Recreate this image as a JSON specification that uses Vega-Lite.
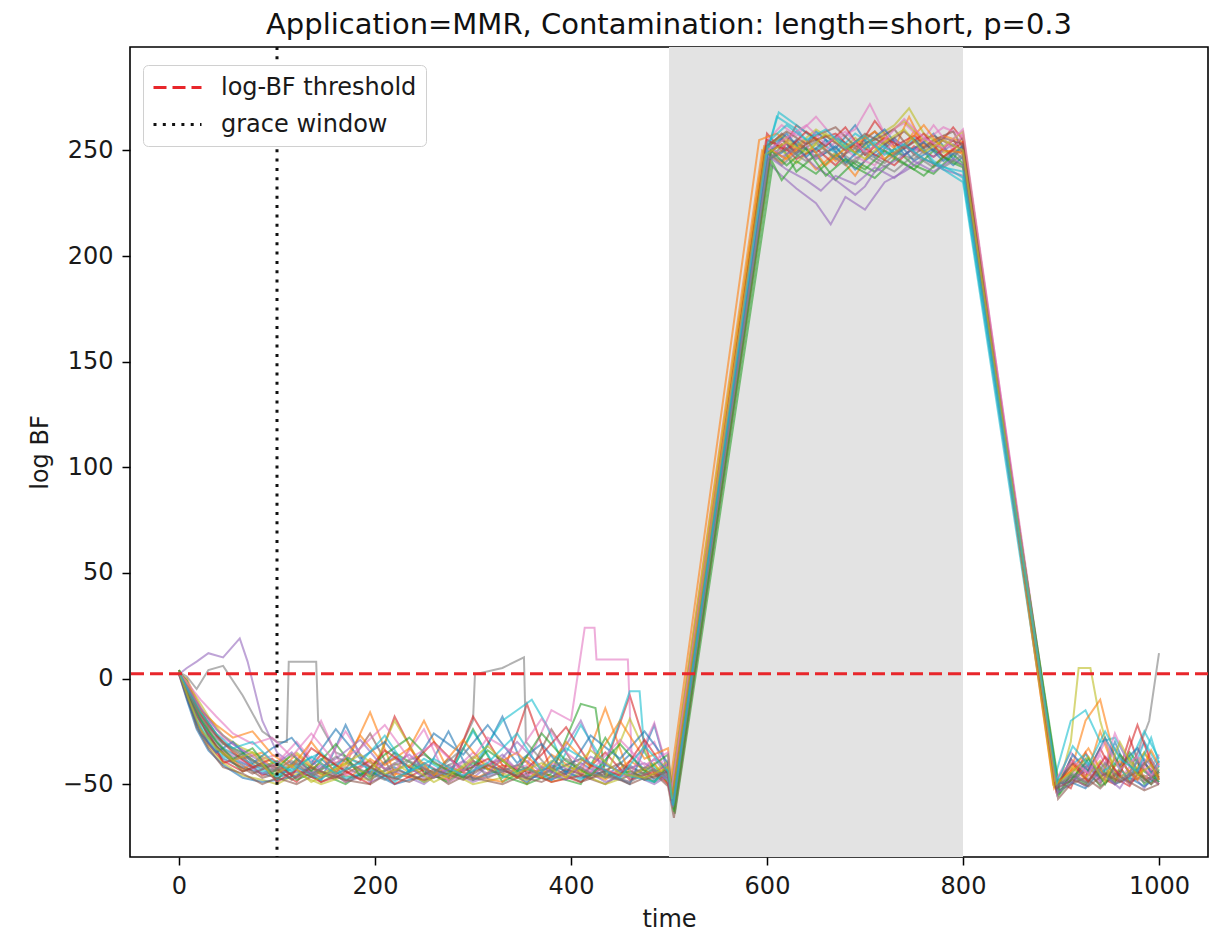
{
"$schema": "https://vega.github.io/schema/vega-lite/v6.json",
"width": 1078, "height": 810,
"autosize": {"type": "none"},
"padding": {"left": 130, "top": 47, "right": 14, "bottom": 78},
"title": {"text": "Application=MMR, Contamination: length=short, p=0.3", "font": "DejaVu Sans", "fontSize": 29, "fontWeight": "normal", "color": "#111", "anchor": "middle", "offset": 6},
"config": {
 "font": "DejaVu Sans",
 "view": {"stroke": "#000", "strokeWidth": 1.6},
 "axis": {"grid": false, "domain": false, "tickColor": "#000", "tickWidth": 1.5, "tickSize": 8, "labelFont": "DejaVu Sans", "labelFontSize": 24, "labelColor": "#1a1a1a", "titleFont": "DejaVu Sans", "titleFontSize": 24, "titleFontWeight": "normal", "titleColor": "#1a1a1a", "labelPadding": 9, "labelFlush": false, "labelOverlap": false},
 "axisX": {"titlePadding": 9},
 "axisY": {"titlePadding": 10},
 "legend": {"orient": "none", "legendX": 13, "legendY": 18, "labelFont": "DejaVu Sans", "labelFontSize": 24, "labelColor": "#1a1a1a", "labelLimit": 600, "symbolType": "M-1,0H3", "symbolStrokeWidth": 3, "symbolSize": 576, "strokeColor": "#d0d0d0", "fillColor": "white", "cornerRadius": 5, "padding": 9, "rowPadding": 11, "labelOffset": 42}
},
"layer": [
 {
  "data": {"values": [{"a": 500, "b": 800}]},
  "mark": {"type": "rect", "color": "#e3e3e3"},
  "encoding": {
   "x": {"field": "a", "type": "quantitative", "title": "time", "scale": {"domain": [-50, 1050], "nice": false, "zero": false}},
   "x2": {"field": "b"}
  }
 },
 {
  "data": {"values": [
{"s":1,"t":0,"v":3},{"s":1,"t":8,"v":-8},{"s":1,"t":18,"v":-20},{"s":1,"t":30,"v":-30},{"s":1,"t":45,"v":-38},{"s":1,"t":65,"v":-42},{"s":1,"t":85,"v":-45},{"s":1,"t":100,"v":-47},{"s":1,"t":120,"v":-44},{"s":1,"t":145,"v":-48},{"s":1,"t":170,"v":-22},{"s":1,"t":195,"v":-46},{"s":1,"t":220,"v":-42},{"s":1,"t":250,"v":-49},{"s":1,"t":275,"v":-38},{"s":1,"t":300,"v":-45},{"s":1,"t":330,"v":-18},{"s":1,"t":355,"v":-46},{"s":1,"t":380,"v":-48},{"s":1,"t":410,"v":-40},{"s":1,"t":435,"v":-47},{"s":1,"t":460,"v":-36},{"s":1,"t":485,"v":-48},{"s":1,"t":499,"v":-44},{"s":1,"t":503,"v":-58},{"s":1,"t":600,"v":252},{"s":1,"t":615,"v":256},{"s":1,"t":630,"v":248},{"s":1,"t":650,"v":259},{"s":1,"t":670,"v":251},{"s":1,"t":690,"v":262},{"s":1,"t":710,"v":247},{"s":1,"t":730,"v":255},{"s":1,"t":750,"v":250},{"s":1,"t":770,"v":258},{"s":1,"t":790,"v":246},{"s":1,"t":800,"v":253},{"s":1,"t":895,"v":-50},{"s":1,"t":910,"v":-45},{"s":1,"t":925,"v":-38},{"s":1,"t":940,"v":-48},{"s":1,"t":955,"v":-30},{"s":1,"t":970,"v":-46},{"s":1,"t":985,"v":-40},{"s":1,"t":1000,"v":-49},
{"s":2,"t":0,"v":2},{"s":2,"t":8,"v":0},{"s":2,"t":18,"v":-10},{"s":2,"t":30,"v":-22},{"s":2,"t":45,"v":-30},{"s":2,"t":65,"v":-38},{"s":2,"t":85,"v":-35},{"s":2,"t":100,"v":-42},{"s":2,"t":120,"v":-47},{"s":2,"t":145,"v":-40},{"s":2,"t":170,"v":-49},{"s":2,"t":195,"v":-38},{"s":2,"t":220,"v":-46},{"s":2,"t":250,"v":-20},{"s":2,"t":275,"v":-44},{"s":2,"t":300,"v":-48},{"s":2,"t":330,"v":-41},{"s":2,"t":355,"v":-50},{"s":2,"t":380,"v":-36},{"s":2,"t":410,"v":-45},{"s":2,"t":435,"v":-14},{"s":2,"t":460,"v":-46},{"s":2,"t":485,"v":-40},{"s":2,"t":499,"v":-50},{"s":2,"t":502,"v":-52},{"s":2,"t":595,"v":250},{"s":2,"t":615,"v":244},{"s":2,"t":630,"v":252},{"s":2,"t":650,"v":241},{"s":2,"t":670,"v":249},{"s":2,"t":690,"v":238},{"s":2,"t":710,"v":253},{"s":2,"t":730,"v":246},{"s":2,"t":750,"v":259},{"s":2,"t":770,"v":243},{"s":2,"t":790,"v":251},{"s":2,"t":800,"v":248},{"s":2,"t":893,"v":-52},{"s":2,"t":910,"v":-40},{"s":2,"t":925,"v":-48},{"s":2,"t":940,"v":-25},{"s":2,"t":955,"v":-44},{"s":2,"t":970,"v":-50},{"s":2,"t":985,"v":-35},{"s":2,"t":1000,"v":-47},
{"s":3,"t":0,"v":4},{"s":3,"t":8,"v":-3},{"s":3,"t":18,"v":-15},{"s":3,"t":30,"v":-28},{"s":3,"t":45,"v":-35},{"s":3,"t":65,"v":-44},{"s":3,"t":85,"v":-40},{"s":3,"t":100,"v":-48},{"s":3,"t":120,"v":-38},{"s":3,"t":145,"v":-45},{"s":3,"t":170,"v":-50},{"s":3,"t":195,"v":-42},{"s":3,"t":220,"v":-48},{"s":3,"t":250,"v":-40},{"s":3,"t":275,"v":-47},{"s":3,"t":300,"v":-24},{"s":3,"t":330,"v":-49},{"s":3,"t":355,"v":-43},{"s":3,"t":380,"v":-46},{"s":3,"t":410,"v":-50},{"s":3,"t":435,"v":-28},{"s":3,"t":460,"v":-47},{"s":3,"t":485,"v":-43},{"s":3,"t":499,"v":-49},{"s":3,"t":505,"v":-62},{"s":3,"t":605,"v":247},{"s":3,"t":615,"v":252},{"s":3,"t":630,"v":240},{"s":3,"t":650,"v":248},{"s":3,"t":670,"v":236},{"s":3,"t":690,"v":245},{"s":3,"t":710,"v":240},{"s":3,"t":730,"v":251},{"s":3,"t":750,"v":243},{"s":3,"t":770,"v":239},{"s":3,"t":790,"v":248},{"s":3,"t":800,"v":244},{"s":3,"t":898,"v":-53},{"s":3,"t":910,"v":-50},{"s":3,"t":925,"v":-42},{"s":3,"t":940,"v":-51},{"s":3,"t":955,"v":-46},{"s":3,"t":970,"v":-37},{"s":3,"t":985,"v":-50},{"s":3,"t":1000,"v":-44},
{"s":4,"t":0,"v":3},{"s":4,"t":8,"v":-5},{"s":4,"t":18,"v":-18},{"s":4,"t":30,"v":-25},{"s":4,"t":45,"v":-40},{"s":4,"t":65,"v":-37},{"s":4,"t":85,"v":-46},{"s":4,"t":100,"v":-43},{"s":4,"t":120,"v":-49},{"s":4,"t":145,"v":-36},{"s":4,"t":170,"v":-44},{"s":4,"t":195,"v":-50},{"s":4,"t":220,"v":-18},{"s":4,"t":250,"v":-45},{"s":4,"t":275,"v":-48},{"s":4,"t":300,"v":-39},{"s":4,"t":330,"v":-46},{"s":4,"t":355,"v":-12},{"s":4,"t":380,"v":-44},{"s":4,"t":410,"v":-49},{"s":4,"t":435,"v":-41},{"s":4,"t":460,"v":-8},{"s":4,"t":485,"v":-45},{"s":4,"t":499,"v":-40},{"s":4,"t":503,"v":-57},{"s":4,"t":600,"v":258},{"s":4,"t":615,"v":250},{"s":4,"t":630,"v":262},{"s":4,"t":650,"v":255},{"s":4,"t":670,"v":258},{"s":4,"t":690,"v":249},{"s":4,"t":710,"v":264},{"s":4,"t":730,"v":252},{"s":4,"t":750,"v":257},{"s":4,"t":770,"v":250},{"s":4,"t":790,"v":261},{"s":4,"t":800,"v":255},{"s":4,"t":895,"v":-48},{"s":4,"t":910,"v":-52},{"s":4,"t":925,"v":-35},{"s":4,"t":940,"v":-47},{"s":4,"t":955,"v":-50},{"s":4,"t":970,"v":-28},{"s":4,"t":985,"v":-48},{"s":4,"t":1000,"v":-45},
{"s":5,"t":0,"v":2},{"s":5,"t":8,"v":5},{"s":5,"t":18,"v":8},{"s":5,"t":30,"v":12},{"s":5,"t":45,"v":10},{"s":5,"t":62,"v":19},{"s":5,"t":70,"v":8},{"s":5,"t":85,"v":-20},{"s":5,"t":100,"v":-35},{"s":5,"t":120,"v":-42},{"s":5,"t":145,"v":-47},{"s":5,"t":170,"v":-38},{"s":5,"t":195,"v":-49},{"s":5,"t":220,"v":-44},{"s":5,"t":250,"v":-50},{"s":5,"t":275,"v":-41},{"s":5,"t":300,"v":-47},{"s":5,"t":330,"v":-36},{"s":5,"t":355,"v":-48},{"s":5,"t":380,"v":-43},{"s":5,"t":410,"v":-20},{"s":5,"t":435,"v":-46},{"s":5,"t":460,"v":-49},{"s":5,"t":485,"v":-38},{"s":5,"t":499,"v":-46},{"s":5,"t":504,"v":-60},{"s":5,"t":602,"v":244},{"s":5,"t":615,"v":238},{"s":5,"t":630,"v":232},{"s":5,"t":650,"v":225},{"s":5,"t":665,"v":215},{"s":5,"t":680,"v":228},{"s":5,"t":700,"v":222},{"s":5,"t":720,"v":235},{"s":5,"t":740,"v":240},{"s":5,"t":760,"v":246},{"s":5,"t":780,"v":241},{"s":5,"t":800,"v":238},{"s":5,"t":896,"v":-55},{"s":5,"t":910,"v":-46},{"s":5,"t":925,"v":-51},{"s":5,"t":940,"v":-40},{"s":5,"t":955,"v":-48},{"s":5,"t":970,"v":-44},{"s":5,"t":985,"v":-52},{"s":5,"t":1000,"v":-41},
{"s":6,"t":0,"v":3},{"s":6,"t":8,"v":-6},{"s":6,"t":18,"v":-16},{"s":6,"t":30,"v":-27},{"s":6,"t":45,"v":-36},{"s":6,"t":65,"v":-41},{"s":6,"t":85,"v":-47},{"s":6,"t":100,"v":-45},{"s":6,"t":120,"v":-40},{"s":6,"t":145,"v":-49},{"s":6,"t":170,"v":-43},{"s":6,"t":195,"v":-26},{"s":6,"t":220,"v":-47},{"s":6,"t":250,"v":-42},{"s":6,"t":275,"v":-50},{"s":6,"t":300,"v":-44},{"s":6,"t":330,"v":-38},{"s":6,"t":355,"v":-47},{"s":6,"t":380,"v":-24},{"s":6,"t":410,"v":-46},{"s":6,"t":435,"v":-50},{"s":6,"t":460,"v":-42},{"s":6,"t":485,"v":-47},{"s":6,"t":499,"v":-43},{"s":6,"t":503,"v":-56},{"s":6,"t":598,"v":250},{"s":6,"t":615,"v":258},{"s":6,"t":630,"v":253},{"s":6,"t":650,"v":249},{"s":6,"t":670,"v":256},{"s":6,"t":690,"v":251},{"s":6,"t":710,"v":259},{"s":6,"t":730,"v":248},{"s":6,"t":750,"v":254},{"s":6,"t":770,"v":257},{"s":6,"t":790,"v":252},{"s":6,"t":800,"v":256},{"s":6,"t":894,"v":-51},{"s":6,"t":910,"v":-47},{"s":6,"t":925,"v":-44},{"s":6,"t":940,"v":-50},{"s":6,"t":955,"v":-38},{"s":6,"t":970,"v":-49},{"s":6,"t":985,"v":-46},{"s":6,"t":1000,"v":-50},
{"s":7,"t":0,"v":3},{"s":7,"t":8,"v":-2},{"s":7,"t":18,"v":-12},{"s":7,"t":30,"v":-20},{"s":7,"t":45,"v":-33},{"s":7,"t":65,"v":-39},{"s":7,"t":85,"v":-43},{"s":7,"t":100,"v":-40},{"s":7,"t":120,"v":-30},{"s":7,"t":145,"v":-44},{"s":7,"t":170,"v":-25},{"s":7,"t":195,"v":-43},{"s":7,"t":220,"v":-48},{"s":7,"t":250,"v":-40},{"s":7,"t":275,"v":-46},{"s":7,"t":300,"v":-35},{"s":7,"t":330,"v":-45},{"s":7,"t":355,"v":-41},{"s":7,"t":380,"v":-15},{"s":7,"t":400,"v":-20},{"s":7,"t":414,"v":24},{"s":7,"t":424,"v":24},{"s":7,"t":426,"v":9},{"s":7,"t":458,"v":9},{"s":7,"t":462,"v":-38},{"s":7,"t":485,"v":-30},{"s":7,"t":499,"v":-47},{"s":7,"t":503,"v":-59},{"s":7,"t":601,"v":255},{"s":7,"t":615,"v":262},{"s":7,"t":630,"v":257},{"s":7,"t":650,"v":266},{"s":7,"t":670,"v":255},{"s":7,"t":690,"v":260},{"s":7,"t":705,"v":272},{"s":7,"t":720,"v":258},{"s":7,"t":740,"v":263},{"s":7,"t":760,"v":254},{"s":7,"t":780,"v":261},{"s":7,"t":800,"v":257},{"s":7,"t":896,"v":-49},{"s":7,"t":910,"v":-43},{"s":7,"t":925,"v":-49},{"s":7,"t":940,"v":-36},{"s":7,"t":955,"v":-50},{"s":7,"t":970,"v":-42},{"s":7,"t":985,"v":-30},{"s":7,"t":1000,"v":-48},
{"s":8,"t":0,"v":3},{"s":8,"t":8,"v":1},{"s":8,"t":18,"v":-5},{"s":8,"t":30,"v":4},{"s":8,"t":45,"v":6},{"s":8,"t":65,"v":-8},{"s":8,"t":85,"v":-25},{"s":8,"t":100,"v":-30},{"s":8,"t":110,"v":-30},{"s":8,"t":112,"v":8},{"s":8,"t":140,"v":8},{"s":8,"t":142,"v":-20},{"s":8,"t":160,"v":-35},{"s":8,"t":195,"v":-42},{"s":8,"t":220,"v":-38},{"s":8,"t":250,"v":-46},{"s":8,"t":280,"v":-40},{"s":8,"t":300,"v":-20},{"s":8,"t":302,"v":2},{"s":8,"t":330,"v":5},{"s":8,"t":352,"v":10},{"s":8,"t":354,"v":-30},{"s":8,"t":380,"v":-44},{"s":8,"t":410,"v":-38},{"s":8,"t":435,"v":-47},{"s":8,"t":460,"v":-41},{"s":8,"t":485,"v":-49},{"s":8,"t":499,"v":-45},{"s":8,"t":503,"v":-54},{"s":8,"t":599,"v":249},{"s":8,"t":615,"v":245},{"s":8,"t":630,"v":254},{"s":8,"t":650,"v":247},{"s":8,"t":670,"v":251},{"s":8,"t":690,"v":244},{"s":8,"t":710,"v":256},{"s":8,"t":730,"v":249},{"s":8,"t":750,"v":246},{"s":8,"t":770,"v":253},{"s":8,"t":790,"v":248},{"s":8,"t":800,"v":250},{"s":8,"t":895,"v":-50},{"s":8,"t":910,"v":-48},{"s":8,"t":925,"v":-41},{"s":8,"t":940,"v":-47},{"s":8,"t":955,"v":-33},{"s":8,"t":970,"v":-45},{"s":8,"t":990,"v":-20},{"s":8,"t":1000,"v":12},
{"s":9,"t":0,"v":4},{"s":9,"t":8,"v":-4},{"s":9,"t":18,"v":-22},{"s":9,"t":30,"v":-32},{"s":9,"t":45,"v":-40},{"s":9,"t":65,"v":-46},{"s":9,"t":85,"v":-48},{"s":9,"t":100,"v":-50},{"s":9,"t":120,"v":-45},{"s":9,"t":145,"v":-50},{"s":9,"t":170,"v":-46},{"s":9,"t":195,"v":-48},{"s":9,"t":220,"v":-40},{"s":9,"t":250,"v":-49},{"s":9,"t":275,"v":-44},{"s":9,"t":300,"v":-50},{"s":9,"t":330,"v":-47},{"s":9,"t":355,"v":-42},{"s":9,"t":380,"v":-49},{"s":9,"t":410,"v":-45},{"s":9,"t":435,"v":-50},{"s":9,"t":460,"v":-46},{"s":9,"t":485,"v":-41},{"s":9,"t":499,"v":-48},{"s":9,"t":504,"v":-61},{"s":9,"t":603,"v":246},{"s":9,"t":615,"v":250},{"s":9,"t":630,"v":244},{"s":9,"t":650,"v":253},{"s":9,"t":670,"v":247},{"s":9,"t":690,"v":256},{"s":9,"t":705,"v":250},{"s":9,"t":720,"v":257},{"s":9,"t":740,"v":264},{"s":9,"t":760,"v":255},{"s":9,"t":780,"v":249},{"s":9,"t":800,"v":251},{"s":9,"t":897,"v":-52},{"s":9,"t":910,"v":-30},{"s":9,"t":918,"v":5},{"s":9,"t":930,"v":5},{"s":9,"t":940,"v":-20},{"s":9,"t":955,"v":-45},{"s":9,"t":970,"v":-38},{"s":9,"t":985,"v":-47},{"s":9,"t":1000,"v":-42},
{"s":10,"t":0,"v":3},{"s":10,"t":8,"v":-7},{"s":10,"t":18,"v":-19},{"s":10,"t":30,"v":-29},{"s":10,"t":45,"v":-37},{"s":10,"t":65,"v":-40},{"s":10,"t":85,"v":-44},{"s":10,"t":100,"v":-46},{"s":10,"t":120,"v":-41},{"s":10,"t":145,"v":-35},{"s":10,"t":170,"v":-47},{"s":10,"t":195,"v":-44},{"s":10,"t":220,"v":-49},{"s":10,"t":250,"v":-38},{"s":10,"t":275,"v":-45},{"s":10,"t":300,"v":-42},{"s":10,"t":330,"v":-20},{"s":10,"t":345,"v":-15},{"s":10,"t":360,"v":-10},{"s":10,"t":375,"v":-22},{"s":10,"t":395,"v":-44},{"s":10,"t":410,"v":-48},{"s":10,"t":435,"v":-40},{"s":10,"t":460,"v":-6},{"s":10,"t":470,"v":-6},{"s":10,"t":475,"v":-35},{"s":10,"t":485,"v":-42},{"s":10,"t":499,"v":-48},{"s":10,"t":503,"v":-57},{"s":10,"t":601,"v":251},{"s":10,"t":612,"v":268},{"s":10,"t":630,"v":262},{"s":10,"t":650,"v":255},{"s":10,"t":670,"v":249},{"s":10,"t":690,"v":258},{"s":10,"t":710,"v":252},{"s":10,"t":730,"v":247},{"s":10,"t":750,"v":255},{"s":10,"t":770,"v":244},{"s":10,"t":790,"v":238},{"s":10,"t":800,"v":235},{"s":10,"t":893,"v":-48},{"s":10,"t":910,"v":-20},{"s":10,"t":925,"v":-15},{"s":10,"t":940,"v":-30},{"s":10,"t":955,"v":-28},{"s":10,"t":970,"v":-40},{"s":10,"t":985,"v":-25},{"s":10,"t":1000,"v":-38},
{"s":11,"t":0,"v":2},{"s":11,"t":8,"v":-10},{"s":11,"t":18,"v":-24},{"s":11,"t":30,"v":-34},{"s":11,"t":45,"v":-41},{"s":11,"t":65,"v":-47},{"s":11,"t":85,"v":-49},{"s":11,"t":100,"v":-48},{"s":11,"t":120,"v":-46},{"s":11,"t":145,"v":-38},{"s":11,"t":170,"v":-48},{"s":11,"t":195,"v":-44},{"s":11,"t":220,"v":-50},{"s":11,"t":250,"v":-46},{"s":11,"t":275,"v":-25},{"s":11,"t":300,"v":-48},{"s":11,"t":330,"v":-43},{"s":11,"t":355,"v":-49},{"s":11,"t":380,"v":-41},{"s":11,"t":410,"v":-47},{"s":11,"t":435,"v":-44},{"s":11,"t":460,"v":-50},{"s":11,"t":485,"v":-22},{"s":11,"t":499,"v":-45},{"s":11,"t":502,"v":-53},{"s":11,"t":598,"v":245},{"s":11,"t":615,"v":249},{"s":11,"t":630,"v":255},{"s":11,"t":650,"v":246},{"s":11,"t":670,"v":252},{"s":11,"t":690,"v":241},{"s":11,"t":710,"v":249},{"s":11,"t":730,"v":256},{"s":11,"t":750,"v":245},{"s":11,"t":770,"v":251},{"s":11,"t":790,"v":243},{"s":11,"t":800,"v":247},{"s":11,"t":894,"v":-50},{"s":11,"t":910,"v":-49},{"s":11,"t":925,"v":-52},{"s":11,"t":940,"v":-44},{"s":11,"t":955,"v":-50},{"s":11,"t":970,"v":-47},{"s":11,"t":985,"v":-51},{"s":11,"t":1000,"v":-46},
{"s":12,"t":0,"v":3},{"s":12,"t":8,"v":-6},{"s":12,"t":18,"v":-14},{"s":12,"t":30,"v":-24},{"s":12,"t":45,"v":-34},{"s":12,"t":65,"v":-43},{"s":12,"t":85,"v":-38},{"s":12,"t":100,"v":-44},{"s":12,"t":120,"v":-36},{"s":12,"t":145,"v":-46},{"s":12,"t":170,"v":-41},{"s":12,"t":195,"v":-16},{"s":12,"t":220,"v":-45},{"s":12,"t":250,"v":-48},{"s":12,"t":275,"v":-42},{"s":12,"t":300,"v":-46},{"s":12,"t":330,"v":-49},{"s":12,"t":355,"v":-37},{"s":12,"t":380,"v":-47},{"s":12,"t":410,"v":-43},{"s":12,"t":435,"v":-48},{"s":12,"t":460,"v":-39},{"s":12,"t":485,"v":-46},{"s":12,"t":499,"v":-42},{"s":12,"t":501,"v":-50},{"s":12,"t":592,"v":255},{"s":12,"t":610,"v":258},{"s":12,"t":630,"v":250},{"s":12,"t":650,"v":256},{"s":12,"t":670,"v":245},{"s":12,"t":690,"v":253},{"s":12,"t":710,"v":259},{"s":12,"t":730,"v":251},{"s":12,"t":745,"v":266},{"s":12,"t":760,"v":252},{"s":12,"t":780,"v":257},{"s":12,"t":800,"v":254},{"s":12,"t":892,"v":-50},{"s":12,"t":910,"v":-44},{"s":12,"t":925,"v":-20},{"s":12,"t":940,"v":-10},{"s":12,"t":955,"v":-38},{"s":12,"t":970,"v":-49},{"s":12,"t":985,"v":-43},{"s":12,"t":1000,"v":-50},
{"s":13,"t":0,"v":3},{"s":13,"t":8,"v":-1},{"s":13,"t":18,"v":-13},{"s":13,"t":30,"v":-21},{"s":13,"t":45,"v":-31},{"s":13,"t":65,"v":-35},{"s":13,"t":85,"v":-42},{"s":13,"t":100,"v":-39},{"s":13,"t":120,"v":-48},{"s":13,"t":145,"v":-43},{"s":13,"t":170,"v":-38},{"s":13,"t":195,"v":-47},{"s":13,"t":220,"v":-35},{"s":13,"t":250,"v":-44},{"s":13,"t":275,"v":-49},{"s":13,"t":300,"v":-40},{"s":13,"t":330,"v":-46},{"s":13,"t":355,"v":-50},{"s":13,"t":380,"v":-45},{"s":13,"t":410,"v":-12},{"s":13,"t":425,"v":-14},{"s":13,"t":435,"v":-46},{"s":13,"t":460,"v":-44},{"s":13,"t":485,"v":-49},{"s":13,"t":499,"v":-41},{"s":13,"t":506,"v":-64},{"s":13,"t":606,"v":244},{"s":13,"t":615,"v":236},{"s":13,"t":630,"v":245},{"s":13,"t":650,"v":239},{"s":13,"t":670,"v":248},{"s":13,"t":690,"v":242},{"s":13,"t":710,"v":237},{"s":13,"t":730,"v":246},{"s":13,"t":750,"v":241},{"s":13,"t":770,"v":250},{"s":13,"t":790,"v":244},{"s":13,"t":800,"v":242},{"s":13,"t":899,"v":-54},{"s":13,"t":910,"v":-45},{"s":13,"t":925,"v":-50},{"s":13,"t":940,"v":-42},{"s":13,"t":955,"v":-49},{"s":13,"t":970,"v":-35},{"s":13,"t":985,"v":-44},{"s":13,"t":1000,"v":-49},
{"s":14,"t":0,"v":2},{"s":14,"t":8,"v":-9},{"s":14,"t":18,"v":-21},{"s":14,"t":30,"v":-31},{"s":14,"t":45,"v":-39},{"s":14,"t":65,"v":-44},{"s":14,"t":85,"v":-41},{"s":14,"t":100,"v":-49},{"s":14,"t":120,"v":-43},{"s":14,"t":145,"v":-49},{"s":14,"t":170,"v":-45},{"s":14,"t":195,"v":-39},{"s":14,"t":220,"v":-50},{"s":14,"t":250,"v":-43},{"s":14,"t":275,"v":-47},{"s":14,"t":300,"v":-18},{"s":14,"t":330,"v":-41},{"s":14,"t":355,"v":-44},{"s":14,"t":380,"v":-49},{"s":14,"t":410,"v":-46},{"s":14,"t":435,"v":-35},{"s":14,"t":460,"v":-48},{"s":14,"t":485,"v":-44},{"s":14,"t":499,"v":-50},{"s":14,"t":503,"v":-58},{"s":14,"t":599,"v":248},{"s":14,"t":615,"v":253},{"s":14,"t":630,"v":246},{"s":14,"t":650,"v":251},{"s":14,"t":670,"v":243},{"s":14,"t":690,"v":254},{"s":14,"t":710,"v":248},{"s":14,"t":730,"v":243},{"s":14,"t":750,"v":252},{"s":14,"t":770,"v":247},{"s":14,"t":790,"v":255},{"s":14,"t":800,"v":249},{"s":14,"t":895,"v":-53},{"s":14,"t":910,"v":-38},{"s":14,"t":925,"v":-46},{"s":14,"t":940,"v":-33},{"s":14,"t":955,"v":-47},{"s":14,"t":970,"v":-51},{"s":14,"t":985,"v":-40},{"s":14,"t":1000,"v":-47},
{"s":15,"t":0,"v":3},{"s":15,"t":8,"v":-4},{"s":15,"t":18,"v":-17},{"s":15,"t":30,"v":-26},{"s":15,"t":45,"v":-34},{"s":15,"t":65,"v":-40},{"s":15,"t":85,"v":-45},{"s":15,"t":100,"v":-42},{"s":15,"t":120,"v":-47},{"s":15,"t":145,"v":-41},{"s":15,"t":170,"v":-49},{"s":15,"t":195,"v":-45},{"s":15,"t":220,"v":-37},{"s":15,"t":250,"v":-47},{"s":15,"t":275,"v":-43},{"s":15,"t":300,"v":-49},{"s":15,"t":330,"v":-44},{"s":15,"t":355,"v":-39},{"s":15,"t":380,"v":-48},{"s":15,"t":410,"v":-42},{"s":15,"t":435,"v":-49},{"s":15,"t":460,"v":-45},{"s":15,"t":485,"v":-50},{"s":15,"t":499,"v":-46},{"s":15,"t":504,"v":-60},{"s":15,"t":601,"v":253},{"s":15,"t":615,"v":247},{"s":15,"t":630,"v":251},{"s":15,"t":650,"v":242},{"s":15,"t":670,"v":236},{"s":15,"t":690,"v":229},{"s":15,"t":700,"v":233},{"s":15,"t":710,"v":240},{"s":15,"t":730,"v":245},{"s":15,"t":750,"v":251},{"s":15,"t":770,"v":247},{"s":15,"t":790,"v":253},{"s":15,"t":800,"v":250},{"s":15,"t":896,"v":-52},{"s":15,"t":910,"v":-48},{"s":15,"t":925,"v":-40},{"s":15,"t":940,"v":-49},{"s":15,"t":955,"v":-43},{"s":15,"t":970,"v":-50},{"s":15,"t":985,"v":-38},{"s":15,"t":1000,"v":-45},
{"s":16,"t":0,"v":4},{"s":16,"t":8,"v":-8},{"s":16,"t":18,"v":-23},{"s":16,"t":30,"v":-33},{"s":16,"t":45,"v":-42},{"s":16,"t":65,"v":-45},{"s":16,"t":85,"v":-50},{"s":16,"t":100,"v":-47},{"s":16,"t":120,"v":-50},{"s":16,"t":145,"v":-44},{"s":16,"t":170,"v":-48},{"s":16,"t":195,"v":-50},{"s":16,"t":220,"v":-43},{"s":16,"t":250,"v":-48},{"s":16,"t":275,"v":-45},{"s":16,"t":300,"v":-47},{"s":16,"t":330,"v":-50},{"s":16,"t":355,"v":-45},{"s":16,"t":380,"v":-42},{"s":16,"t":410,"v":-49},{"s":16,"t":435,"v":-45},{"s":16,"t":460,"v":-50},{"s":16,"t":485,"v":-45},{"s":16,"t":499,"v":-51},{"s":16,"t":505,"v":-66},{"s":16,"t":604,"v":249},{"s":16,"t":615,"v":255},{"s":16,"t":630,"v":249},{"s":16,"t":650,"v":257},{"s":16,"t":670,"v":261},{"s":16,"t":690,"v":252},{"s":16,"t":710,"v":255},{"s":16,"t":730,"v":260},{"s":16,"t":750,"v":248},{"s":16,"t":770,"v":255},{"s":16,"t":790,"v":259},{"s":16,"t":800,"v":251},{"s":16,"t":897,"v":-57},{"s":16,"t":910,"v":-50},{"s":16,"t":925,"v":-47},{"s":16,"t":940,"v":-52},{"s":16,"t":955,"v":-45},{"s":16,"t":970,"v":-49},{"s":16,"t":985,"v":-53},{"s":16,"t":1000,"v":-50},
{"s":17,"t":0,"v":3},{"s":17,"t":8,"v":-3},{"s":17,"t":18,"v":-11},{"s":17,"t":30,"v":-19},{"s":17,"t":45,"v":-28},{"s":17,"t":65,"v":-34},{"s":17,"t":85,"v":-38},{"s":17,"t":100,"v":-36},{"s":17,"t":120,"v":-44},{"s":17,"t":145,"v":-20},{"s":17,"t":170,"v":-46},{"s":17,"t":195,"v":-40},{"s":17,"t":220,"v":-44},{"s":17,"t":250,"v":-24},{"s":17,"t":275,"v":-49},{"s":17,"t":300,"v":-43},{"s":17,"t":330,"v":-38},{"s":17,"t":355,"v":-46},{"s":17,"t":380,"v":-40},{"s":17,"t":410,"v":-45},{"s":17,"t":435,"v":-43},{"s":17,"t":460,"v":-47},{"s":17,"t":485,"v":-21},{"s":17,"t":499,"v":-44},{"s":17,"t":502,"v":-55},{"s":17,"t":600,"v":246},{"s":17,"t":615,"v":251},{"s":17,"t":630,"v":259},{"s":17,"t":650,"v":246},{"s":17,"t":670,"v":254},{"s":17,"t":690,"v":247},{"s":17,"t":710,"v":243},{"s":17,"t":730,"v":255},{"s":17,"t":750,"v":249},{"s":17,"t":770,"v":262},{"s":17,"t":790,"v":250},{"s":17,"t":800,"v":258},{"s":17,"t":894,"v":-49},{"s":17,"t":910,"v":-35},{"s":17,"t":925,"v":-44},{"s":17,"t":940,"v":-48},{"s":17,"t":955,"v":-26},{"s":17,"t":970,"v":-42},{"s":17,"t":985,"v":-48},{"s":17,"t":1000,"v":-36},
{"s":18,"t":0,"v":2},{"s":18,"t":8,"v":-5},{"s":18,"t":18,"v":-13},{"s":18,"t":30,"v":-23},{"s":18,"t":45,"v":-30},{"s":18,"t":65,"v":-36},{"s":18,"t":85,"v":-41},{"s":18,"t":100,"v":-44},{"s":18,"t":120,"v":-39},{"s":18,"t":145,"v":-47},{"s":18,"t":170,"v":-42},{"s":18,"t":195,"v":-48},{"s":18,"t":220,"v":-41},{"s":18,"t":250,"v":-36},{"s":18,"t":275,"v":-44},{"s":18,"t":300,"v":-48},{"s":18,"t":330,"v":-42},{"s":18,"t":355,"v":-47},{"s":18,"t":380,"v":-44},{"s":18,"t":410,"v":-38},{"s":18,"t":435,"v":-45},{"s":18,"t":460,"v":-49},{"s":18,"t":485,"v":-43},{"s":18,"t":499,"v":-47},{"s":18,"t":503,"v":-56},{"s":18,"t":600,"v":250},{"s":18,"t":615,"v":243},{"s":18,"t":630,"v":249},{"s":18,"t":650,"v":254},{"s":18,"t":670,"v":246},{"s":18,"t":690,"v":251},{"s":18,"t":710,"v":245},{"s":18,"t":730,"v":240},{"s":18,"t":750,"v":248},{"s":18,"t":770,"v":242},{"s":18,"t":790,"v":250},{"s":18,"t":800,"v":246},{"s":18,"t":895,"v":-51},{"s":18,"t":910,"v":-46},{"s":18,"t":925,"v":-49},{"s":18,"t":940,"v":-43},{"s":18,"t":955,"v":-50},{"s":18,"t":970,"v":-45},{"s":18,"t":985,"v":-49},{"s":18,"t":1000,"v":-44},
{"s":19,"t":0,"v":3},{"s":19,"t":8,"v":-2},{"s":19,"t":18,"v":-9},{"s":19,"t":30,"v":-18},{"s":19,"t":45,"v":-27},{"s":19,"t":65,"v":-33},{"s":19,"t":85,"v":-37},{"s":19,"t":100,"v":-41},{"s":19,"t":120,"v":-35},{"s":19,"t":145,"v":-45},{"s":19,"t":170,"v":-40},{"s":19,"t":195,"v":-46},{"s":19,"t":220,"v":-20},{"s":19,"t":250,"v":-43},{"s":19,"t":275,"v":-47},{"s":19,"t":300,"v":-37},{"s":19,"t":330,"v":-45},{"s":19,"t":355,"v":-48},{"s":19,"t":380,"v":-39},{"s":19,"t":410,"v":-44},{"s":19,"t":435,"v":-47},{"s":19,"t":460,"v":-19},{"s":19,"t":485,"v":-44},{"s":19,"t":499,"v":-39},{"s":19,"t":502,"v":-52},{"s":19,"t":597,"v":251},{"s":19,"t":615,"v":257},{"s":19,"t":630,"v":252},{"s":19,"t":650,"v":260},{"s":19,"t":670,"v":254},{"s":19,"t":690,"v":249},{"s":19,"t":710,"v":256},{"s":19,"t":730,"v":262},{"s":19,"t":745,"v":270},{"s":19,"t":760,"v":258},{"s":19,"t":780,"v":252},{"s":19,"t":800,"v":259},{"s":19,"t":893,"v":-51},{"s":19,"t":910,"v":-42},{"s":19,"t":925,"v":-47},{"s":19,"t":940,"v":-39},{"s":19,"t":955,"v":-48},{"s":19,"t":970,"v":-44},{"s":19,"t":985,"v":-35},{"s":19,"t":1000,"v":-46},
{"s":20,"t":0,"v":3},{"s":20,"t":8,"v":-5},{"s":20,"t":18,"v":-16},{"s":20,"t":30,"v":-25},{"s":20,"t":45,"v":-33},{"s":20,"t":65,"v":-38},{"s":20,"t":85,"v":-43},{"s":20,"t":100,"v":-46},{"s":20,"t":120,"v":-42},{"s":20,"t":145,"v":-48},{"s":20,"t":170,"v":-37},{"s":20,"t":195,"v":-43},{"s":20,"t":220,"v":-47},{"s":20,"t":250,"v":-41},{"s":20,"t":275,"v":-46},{"s":20,"t":300,"v":-25},{"s":20,"t":330,"v":-47},{"s":20,"t":355,"v":-42},{"s":20,"t":380,"v":-48},{"s":20,"t":410,"v":-22},{"s":20,"t":435,"v":-41},{"s":20,"t":460,"v":-46},{"s":20,"t":485,"v":-49},{"s":20,"t":499,"v":-43},{"s":20,"t":504,"v":-59},{"s":20,"t":602,"v":252},{"s":20,"t":610,"v":266},{"s":20,"t":630,"v":260},{"s":20,"t":650,"v":250},{"s":20,"t":670,"v":257},{"s":20,"t":690,"v":248},{"s":20,"t":710,"v":254},{"s":20,"t":730,"v":249},{"s":20,"t":750,"v":256},{"s":20,"t":770,"v":245},{"s":20,"t":790,"v":240},{"s":20,"t":800,"v":237},{"s":20,"t":896,"v":-50},{"s":20,"t":910,"v":-41},{"s":20,"t":925,"v":-36},{"s":20,"t":940,"v":-45},{"s":20,"t":955,"v":-40},{"s":20,"t":970,"v":-48},{"s":20,"t":985,"v":-30},{"s":20,"t":1000,"v":-42},
{"s":21,"t":0,"v":3},{"s":21,"t":10,"v":-12},{"s":21,"t":22,"v":-26},{"s":21,"t":38,"v":-35},{"s":21,"t":55,"v":-30},{"s":21,"t":75,"v":-40},{"s":21,"t":95,"v":-33},{"s":21,"t":115,"v":-28},{"s":21,"t":135,"v":-40},{"s":21,"t":160,"v":-24},{"s":21,"t":185,"v":-38},{"s":21,"t":210,"v":-30},{"s":21,"t":235,"v":-44},{"s":21,"t":260,"v":-26},{"s":21,"t":290,"v":-36},{"s":21,"t":315,"v":-22},{"s":21,"t":345,"v":-40},{"s":21,"t":370,"v":-31},{"s":21,"t":395,"v":-45},{"s":21,"t":420,"v":-27},{"s":21,"t":450,"v":-38},{"s":21,"t":475,"v":-25},{"s":21,"t":499,"v":-40},{"s":21,"t":504,"v":-60},{"s":21,"t":601,"v":249},{"s":21,"t":620,"v":258},{"s":21,"t":640,"v":247},{"s":21,"t":660,"v":255},{"s":21,"t":680,"v":244},{"s":21,"t":700,"v":253},{"s":21,"t":720,"v":260},{"s":21,"t":740,"v":248},{"s":21,"t":760,"v":254},{"s":21,"t":780,"v":245},{"s":21,"t":800,"v":252},{"s":21,"t":896,"v":-52},{"s":21,"t":912,"v":-36},{"s":21,"t":928,"v":-44},{"s":21,"t":945,"v":-28},{"s":21,"t":960,"v":-41},{"s":21,"t":978,"v":-33},{"s":21,"t":992,"v":-45},{"s":21,"t":1000,"v":-39},
{"s":22,"t":0,"v":3},{"s":22,"t":10,"v":-4},{"s":22,"t":22,"v":-15},{"s":22,"t":38,"v":-22},{"s":22,"t":55,"v":-28},{"s":22,"t":75,"v":-25},{"s":22,"t":95,"v":-36},{"s":22,"t":115,"v":-42},{"s":22,"t":135,"v":-30},{"s":22,"t":160,"v":-45},{"s":22,"t":185,"v":-27},{"s":22,"t":210,"v":-41},{"s":22,"t":235,"v":-33},{"s":22,"t":260,"v":-46},{"s":22,"t":290,"v":-29},{"s":22,"t":315,"v":-43},{"s":22,"t":345,"v":-35},{"s":22,"t":370,"v":-47},{"s":22,"t":395,"v":-30},{"s":22,"t":420,"v":-42},{"s":22,"t":450,"v":-20},{"s":22,"t":475,"v":-38},{"s":22,"t":499,"v":-33},{"s":22,"t":503,"v":-57},{"s":22,"t":597,"v":252},{"s":22,"t":620,"v":246},{"s":22,"t":640,"v":255},{"s":22,"t":660,"v":243},{"s":22,"t":680,"v":251},{"s":22,"t":700,"v":257},{"s":22,"t":720,"v":246},{"s":22,"t":740,"v":252},{"s":22,"t":760,"v":262},{"s":22,"t":780,"v":250},{"s":22,"t":800,"v":249},{"s":22,"t":894,"v":-50},{"s":22,"t":912,"v":-43},{"s":22,"t":928,"v":-33},{"s":22,"t":945,"v":-47},{"s":22,"t":960,"v":-39},{"s":22,"t":978,"v":-48},{"s":22,"t":992,"v":-34},{"s":22,"t":1000,"v":-41},
{"s":23,"t":0,"v":4},{"s":23,"t":10,"v":-8},{"s":23,"t":22,"v":-19},{"s":23,"t":38,"v":-30},{"s":23,"t":55,"v":-38},{"s":23,"t":75,"v":-33},{"s":23,"t":95,"v":-45},{"s":23,"t":115,"v":-36},{"s":23,"t":135,"v":-44},{"s":23,"t":160,"v":-31},{"s":23,"t":185,"v":-46},{"s":23,"t":210,"v":-36},{"s":23,"t":235,"v":-28},{"s":23,"t":260,"v":-40},{"s":23,"t":290,"v":-47},{"s":23,"t":315,"v":-34},{"s":23,"t":345,"v":-44},{"s":23,"t":370,"v":-26},{"s":23,"t":395,"v":-39},{"s":23,"t":420,"v":-46},{"s":23,"t":450,"v":-31},{"s":23,"t":475,"v":-44},{"s":23,"t":499,"v":-36},{"s":23,"t":505,"v":-63},{"s":23,"t":604,"v":250},{"s":23,"t":620,"v":243},{"s":23,"t":640,"v":251},{"s":23,"t":660,"v":238},{"s":23,"t":680,"v":246},{"s":23,"t":700,"v":241},{"s":23,"t":720,"v":250},{"s":23,"t":740,"v":244},{"s":23,"t":760,"v":238},{"s":23,"t":780,"v":247},{"s":23,"t":800,"v":243},{"s":23,"t":898,"v":-55},{"s":23,"t":912,"v":-47},{"s":23,"t":928,"v":-38},{"s":23,"t":945,"v":-50},{"s":23,"t":960,"v":-36},{"s":23,"t":978,"v":-45},{"s":23,"t":992,"v":-50},{"s":23,"t":1000,"v":-43},
{"s":24,"t":0,"v":3},{"s":24,"t":10,"v":-6},{"s":24,"t":22,"v":-17},{"s":24,"t":38,"v":-27},{"s":24,"t":55,"v":-35},{"s":24,"t":75,"v":-42},{"s":24,"t":95,"v":-38},{"s":24,"t":115,"v":-46},{"s":24,"t":135,"v":-33},{"s":24,"t":160,"v":-41},{"s":24,"t":185,"v":-48},{"s":24,"t":210,"v":-34},{"s":24,"t":235,"v":-42},{"s":24,"t":260,"v":-30},{"s":24,"t":290,"v":-44},{"s":24,"t":315,"v":-38},{"s":24,"t":345,"v":-47},{"s":24,"t":370,"v":-36},{"s":24,"t":395,"v":-23},{"s":24,"t":420,"v":-41},{"s":24,"t":450,"v":-46},{"s":24,"t":475,"v":-29},{"s":24,"t":499,"v":-45},{"s":24,"t":503,"v":-58},{"s":24,"t":600,"v":255},{"s":24,"t":620,"v":250},{"s":24,"t":640,"v":259},{"s":24,"t":660,"v":252},{"s":24,"t":680,"v":261},{"s":24,"t":700,"v":248},{"s":24,"t":720,"v":256},{"s":24,"t":740,"v":251},{"s":24,"t":760,"v":258},{"s":24,"t":780,"v":247},{"s":24,"t":800,"v":254},{"s":24,"t":895,"v":-51},{"s":24,"t":912,"v":-40},{"s":24,"t":928,"v":-49},{"s":24,"t":945,"v":-37},{"s":24,"t":960,"v":-46},{"s":24,"t":978,"v":-22},{"s":24,"t":992,"v":-40},{"s":24,"t":1000,"v":-48},
{"s":25,"t":0,"v":2},{"s":25,"t":10,"v":-5},{"s":25,"t":22,"v":-14},{"s":25,"t":38,"v":-24},{"s":25,"t":55,"v":-31},{"s":25,"t":75,"v":-37},{"s":25,"t":95,"v":-42},{"s":25,"t":115,"v":-35},{"s":25,"t":135,"v":-45},{"s":25,"t":160,"v":-38},{"s":25,"t":185,"v":-29},{"s":25,"t":210,"v":-43},{"s":25,"t":235,"v":-36},{"s":25,"t":260,"v":-47},{"s":25,"t":290,"v":-39},{"s":25,"t":315,"v":-45},{"s":25,"t":345,"v":-30},{"s":25,"t":370,"v":-42},{"s":25,"t":395,"v":-48},{"s":25,"t":420,"v":-37},{"s":25,"t":450,"v":-44},{"s":25,"t":475,"v":-40},{"s":25,"t":499,"v":-48},{"s":25,"t":504,"v":-61},{"s":25,"t":602,"v":247},{"s":25,"t":620,"v":241},{"s":25,"t":640,"v":236},{"s":25,"t":655,"v":231},{"s":25,"t":670,"v":238},{"s":25,"t":690,"v":234},{"s":25,"t":710,"v":242},{"s":25,"t":730,"v":237},{"s":25,"t":750,"v":245},{"s":25,"t":770,"v":240},{"s":25,"t":790,"v":246},{"s":25,"t":800,"v":243},{"s":25,"t":897,"v":-54},{"s":25,"t":912,"v":-49},{"s":25,"t":928,"v":-41},{"s":25,"t":945,"v":-46},{"s":25,"t":960,"v":-52},{"s":25,"t":978,"v":-39},{"s":25,"t":992,"v":-47},{"s":25,"t":1000,"v":-50},
{"s":26,"t":0,"v":3},{"s":26,"t":10,"v":-9},{"s":26,"t":22,"v":-21},{"s":26,"t":38,"v":-32},{"s":26,"t":55,"v":-40},{"s":26,"t":75,"v":-45},{"s":26,"t":95,"v":-41},{"s":26,"t":115,"v":-48},{"s":26,"t":135,"v":-42},{"s":26,"t":160,"v":-47},{"s":26,"t":185,"v":-39},{"s":26,"t":210,"v":-46},{"s":26,"t":235,"v":-49},{"s":26,"t":260,"v":-43},{"s":26,"t":290,"v":-48},{"s":26,"t":315,"v":-41},{"s":26,"t":345,"v":-46},{"s":26,"t":370,"v":-49},{"s":26,"t":395,"v":-43},{"s":26,"t":420,"v":-47},{"s":26,"t":450,"v":-40},{"s":26,"t":475,"v":-48},{"s":26,"t":499,"v":-44},{"s":26,"t":503,"v":-58},{"s":26,"t":599,"v":252},{"s":26,"t":620,"v":259},{"s":26,"t":640,"v":253},{"s":26,"t":660,"v":257},{"s":26,"t":680,"v":250},{"s":26,"t":700,"v":258},{"s":26,"t":720,"v":253},{"s":26,"t":740,"v":259},{"s":26,"t":760,"v":251},{"s":26,"t":780,"v":256},{"s":26,"t":800,"v":253},{"s":26,"t":895,"v":-52},{"s":26,"t":912,"v":-48},{"s":26,"t":928,"v":-51},{"s":26,"t":945,"v":-45},{"s":26,"t":960,"v":-49},{"s":26,"t":978,"v":-44},{"s":26,"t":992,"v":-50},{"s":26,"t":1000,"v":-47},
{"s":27,"t":0,"v":3},{"s":27,"t":10,"v":-3},{"s":27,"t":22,"v":-10},{"s":27,"t":38,"v":-18},{"s":27,"t":55,"v":-26},{"s":27,"t":75,"v":-31},{"s":27,"t":95,"v":-28},{"s":27,"t":115,"v":-37},{"s":27,"t":135,"v":-26},{"s":27,"t":160,"v":-40},{"s":27,"t":185,"v":-33},{"s":27,"t":210,"v":-22},{"s":27,"t":235,"v":-38},{"s":27,"t":260,"v":-31},{"s":27,"t":290,"v":-44},{"s":27,"t":315,"v":-28},{"s":27,"t":345,"v":-36},{"s":27,"t":370,"v":-19},{"s":27,"t":395,"v":-35},{"s":27,"t":420,"v":-44},{"s":27,"t":450,"v":-29},{"s":27,"t":475,"v":-41},{"s":27,"t":499,"v":-35},{"s":27,"t":502,"v":-54},{"s":27,"t":600,"v":250},{"s":27,"t":620,"v":256},{"s":27,"t":640,"v":262},{"s":27,"t":660,"v":253},{"s":27,"t":680,"v":259},{"s":27,"t":700,"v":249},{"s":27,"t":720,"v":255},{"s":27,"t":740,"v":265},{"s":27,"t":760,"v":256},{"s":27,"t":780,"v":251},{"s":27,"t":800,"v":260},{"s":27,"t":894,"v":-48},{"s":27,"t":912,"v":-39},{"s":27,"t":928,"v":-45},{"s":27,"t":945,"v":-30},{"s":27,"t":960,"v":-43},{"s":27,"t":978,"v":-37},{"s":27,"t":992,"v":-46},{"s":27,"t":1000,"v":-40},
{"s":28,"t":0,"v":3},{"s":28,"t":10,"v":-7},{"s":28,"t":22,"v":-18},{"s":28,"t":38,"v":-28},{"s":28,"t":55,"v":-34},{"s":28,"t":75,"v":-39},{"s":28,"t":95,"v":-44},{"s":28,"t":115,"v":-39},{"s":28,"t":135,"v":-46},{"s":28,"t":160,"v":-37},{"s":28,"t":185,"v":-43},{"s":28,"t":210,"v":-48},{"s":28,"t":235,"v":-39},{"s":28,"t":260,"v":-45},{"s":28,"t":290,"v":-33},{"s":28,"t":315,"v":-47},{"s":28,"t":345,"v":-41},{"s":28,"t":370,"v":-46},{"s":28,"t":395,"v":-38},{"s":28,"t":420,"v":-45},{"s":28,"t":450,"v":-48},{"s":28,"t":475,"v":-42},{"s":28,"t":499,"v":-46},{"s":28,"t":504,"v":-59},{"s":28,"t":601,"v":246},{"s":28,"t":620,"v":251},{"s":28,"t":640,"v":245},{"s":28,"t":660,"v":250},{"s":28,"t":680,"v":243},{"s":28,"t":700,"v":249},{"s":28,"t":720,"v":244},{"s":28,"t":740,"v":252},{"s":28,"t":760,"v":246},{"s":28,"t":780,"v":242},{"s":28,"t":800,"v":248},{"s":28,"t":896,"v":-51},{"s":28,"t":912,"v":-45},{"s":28,"t":928,"v":-50},{"s":28,"t":945,"v":-40},{"s":28,"t":960,"v":-48},{"s":28,"t":978,"v":-43},{"s":28,"t":992,"v":-38},{"s":28,"t":1000,"v":-45},
{"s":29,"t":0,"v":3},{"s":29,"t":10,"v":-10},{"s":29,"t":22,"v":-24},{"s":29,"t":38,"v":-33},{"s":29,"t":55,"v":-39},{"s":29,"t":75,"v":-35},{"s":29,"t":95,"v":-46},{"s":29,"t":115,"v":-41},{"s":29,"t":135,"v":-49},{"s":29,"t":160,"v":-43},{"s":29,"t":185,"v":-36},{"s":29,"t":210,"v":-45},{"s":29,"t":235,"v":-41},{"s":29,"t":260,"v":-49},{"s":29,"t":290,"v":-42},{"s":29,"t":315,"v":-32},{"s":29,"t":345,"v":-45},{"s":29,"t":370,"v":-40},{"s":29,"t":395,"v":-47},{"s":29,"t":420,"v":-34},{"s":29,"t":450,"v":-45},{"s":29,"t":475,"v":-47},{"s":29,"t":499,"v":-42},{"s":29,"t":503,"v":-57},{"s":29,"t":598,"v":248},{"s":29,"t":620,"v":254},{"s":29,"t":640,"v":249},{"s":29,"t":660,"v":258},{"s":29,"t":680,"v":252},{"s":29,"t":700,"v":246},{"s":29,"t":720,"v":254},{"s":29,"t":740,"v":260},{"s":29,"t":760,"v":249},{"s":29,"t":780,"v":255},{"s":29,"t":800,"v":250},{"s":29,"t":895,"v":-50},{"s":29,"t":912,"v":-44},{"s":29,"t":928,"v":-37},{"s":29,"t":945,"v":-49},{"s":29,"t":960,"v":-30},{"s":29,"t":978,"v":-46},{"s":29,"t":992,"v":-41},{"s":29,"t":1000,"v":-48},
{"s":30,"t":0,"v":3},{"s":30,"t":10,"v":-6},{"s":30,"t":22,"v":-16},{"s":30,"t":38,"v":-26},{"s":30,"t":55,"v":-33},{"s":30,"t":75,"v":-30},{"s":30,"t":95,"v":-39},{"s":30,"t":115,"v":-44},{"s":30,"t":135,"v":-37},{"s":30,"t":160,"v":-45},{"s":30,"t":185,"v":-40},{"s":30,"t":210,"v":-27},{"s":30,"t":235,"v":-44},{"s":30,"t":260,"v":-38},{"s":30,"t":290,"v":-46},{"s":30,"t":315,"v":-40},{"s":30,"t":345,"v":-26},{"s":30,"t":370,"v":-44},{"s":30,"t":395,"v":-33},{"s":30,"t":420,"v":-40},{"s":30,"t":450,"v":-47},{"s":30,"t":475,"v":-32},{"s":30,"t":499,"v":-44},{"s":30,"t":504,"v":-60},{"s":30,"t":601,"v":254},{"s":30,"t":620,"v":262},{"s":30,"t":640,"v":255},{"s":30,"t":660,"v":260},{"s":30,"t":680,"v":251},{"s":30,"t":700,"v":257},{"s":30,"t":720,"v":248},{"s":30,"t":740,"v":253},{"s":30,"t":760,"v":246},{"s":30,"t":780,"v":242},{"s":30,"t":800,"v":240},{"s":30,"t":896,"v":-49},{"s":30,"t":912,"v":-32},{"s":30,"t":928,"v":-41},{"s":30,"t":945,"v":-25},{"s":30,"t":960,"v":-38},{"s":30,"t":978,"v":-44},{"s":30,"t":992,"v":-28},{"s":30,"t":1000,"v":-40}
  ]},
  "mark": {"type": "line", "strokeWidth": 2, "opacity": 0.6},
  "encoding": {
   "x": {"field": "t", "type": "quantitative", "title": "time", "scale": {"domain": [-50, 1050], "nice": false, "zero": false}, "axis": {"values": [0, 200, 400, 600, 800, 1000], "format": "d"}},
   "y": {"field": "v", "type": "quantitative", "title": "log BF", "scale": {"domain": [-84.5, 299], "nice": false, "zero": false}, "axis": {"values": [-50, 0, 50, 100, 150, 200, 250], "format": "d"}},
   "stroke": {"field": "s", "type": "nominal", "scale": {"scheme": "category10"}, "legend": null}
  }
 },
 {
  "data": {"values": [{"name": "log-BF threshold", "v": 2.3}]},
  "mark": {"type": "rule", "strokeWidth": 3},
  "encoding": {
   "y": {"field": "v", "type": "quantitative", "title": "log BF"},
   "color": {"field": "name", "type": "nominal", "title": null, "scale": {"domain": ["log-BF threshold", "grace window"], "range": ["#e8262b", "#111111"]}},
   "strokeDash": {"field": "name", "type": "nominal", "title": null, "scale": {"domain": ["log-BF threshold", "grace window"], "range": [[13, 6], [3, 6.3]]}}
  }
 },
 {
  "data": {"values": [{"name": "grace window", "t": 100}]},
  "mark": {"type": "rule", "strokeWidth": 3},
  "encoding": {
   "x": {"field": "t", "type": "quantitative", "title": "time"},
   "color": {"field": "name", "type": "nominal", "title": null},
   "strokeDash": {"field": "name", "type": "nominal", "title": null}
  }
 }
]
}
